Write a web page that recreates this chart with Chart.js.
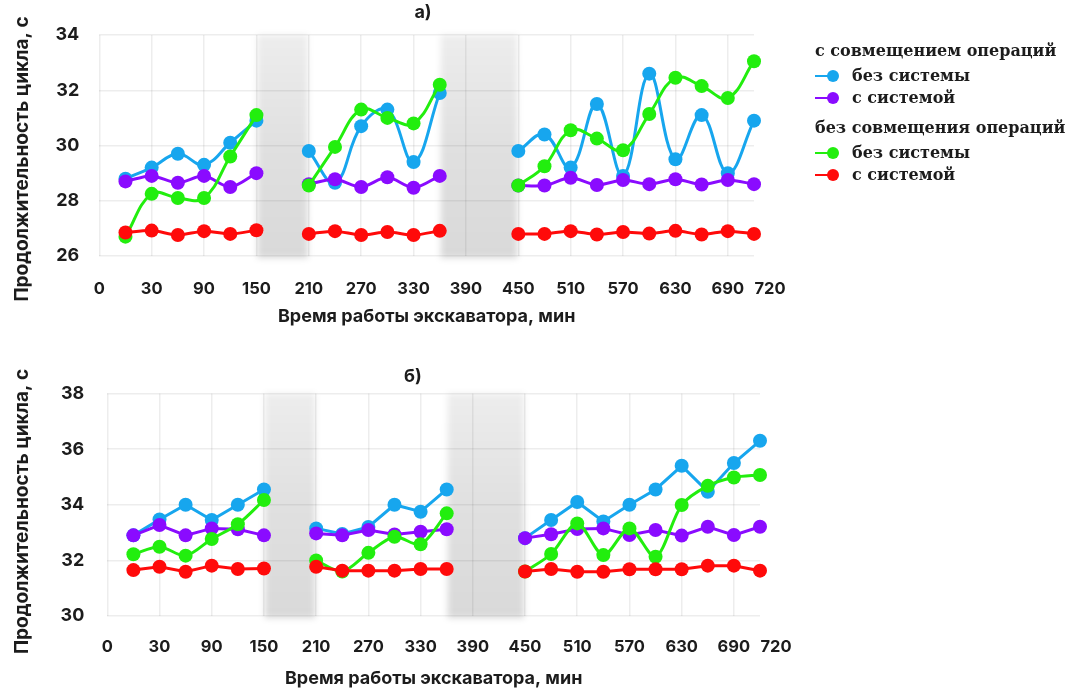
<!DOCTYPE html>
<html lang="ru">
<head>
<meta charset="utf-8">
<title>Продолжительность цикла экскаватора</title>
<script src="https://cdn.jsdelivr.net/npm/chart.js@4/dist/chart.umd.min.js"></script>
<style>
  html, body { margin: 0; padding: 0; background: #fff; }
  #page { position: relative; width: 1077px; height: 690px; overflow: hidden; }
  .panel { position: absolute; left: 0; }
  .ptitle { position: absolute; width: 60px; margin-left: -30px; text-align: center; font-family: Inter, sans-serif; font-weight: bold; font-size: 18px; line-height: 22px; color: #1c1c1c; }
  #legend { position: absolute; left: 815px; top: 37px; font-family: "DejaVu Serif", serif; font-weight: bold; font-size: 16px; color: #1c1c1c; }
  #legend .head { height: 28px; line-height: 28px; white-space: nowrap; }
  #legend .item { height: 22px; line-height: 22px; white-space: nowrap; position: relative; padding-left: 37px; }
  #legend .mark { position: absolute; left: 0; top: 10px; width: 16px; height: 2px; }
  #legend .dot { position: absolute; left: 12px; top: 5px; width: 12px; height: 12px; border-radius: 50%; }
</style>
</head>
<body>
<div id="page">
  <div class="panel" style="top:0;width:824px;height:327px;"><canvas id="chartA"></canvas></div>
  <div class="panel" style="top:355px;width:830px;height:335px;"><canvas id="chartB"></canvas></div>
  <div class="ptitle" style="left:423px;top:1px;">а)</div>
  <div class="ptitle" style="left:413px;top:365px;">б)</div>
  <div id="legend"></div>
</div>
<script>
'use strict';

// x positions: one step per half grid cell, gaps are breaks in operation
const positions = [1,2,3,4,5,6,7,8,9,10,11,12,13,14,15,16,17,18,19,20,21,22,23,24,25];
const tickPositions = [0,2,4,6,8,10,12,14,16,18,20,22,24,25];
const tickLabels = ['0','30','90','150','210','270','330','390','450','510','570','630','690','\u2007\u2007\u2007720'];
const pauses = [[6, 8], [13, 16]];

// а) cycle duration, s
const blueA   = [28.8, 29.2, 29.7, 29.3, 30.1, 30.9, null, 29.8, 28.65, 30.7, 31.3, 29.4, 31.9, null, null, 29.8, 30.4, 29.2, 31.5, 28.9, 32.6, 29.5, 31.1, 29.0, 30.9];
const purpleA = [28.7, 28.9, 28.65, 28.9, 28.5, 29.0, null, 28.6, 28.78, 28.5, 28.85, 28.47, 28.9, null, null, 28.55, 28.55, 28.83, 28.57, 28.75, 28.6, 28.78, 28.59, 28.75, 28.6];
const greenA  = [26.7, 28.25, 28.1, 28.1, 29.6, 31.1, null, 28.55, 29.95, 31.3, 31.0, 30.8, 32.2, null, null, 28.55, 29.25, 30.55, 30.25, 29.83, 31.14, 32.45, 32.15, 31.72, 33.05];
const redA    = [26.85, 26.92, 26.76, 26.9, 26.8, 26.93, null, 26.8, 26.9, 26.76, 26.87, 26.76, 26.91, null, null, 26.8, 26.8, 26.9, 26.78, 26.87, 26.81, 26.91, 26.78, 26.9, 26.8];

// б) cycle duration, s
const blueB   = [32.9, 33.47, 34.0, 33.45, 34.0, 34.55, null, 33.15, 32.95, 33.2, 34.0, 33.75, 34.55, null, null, 32.8, 33.45, 34.1, 33.4, 34.0, 34.55, 35.4, 34.47, 35.5, 36.3];
const purpleB = [32.9, 33.27, 32.9, 33.15, 33.12, 32.9, null, 32.97, 32.9, 33.09, 32.93, 33.03, 33.12, null, null, 32.8, 32.94, 33.13, 33.15, 32.91, 33.09, 32.89, 33.21, 32.91, 33.21];
const greenB  = [32.22, 32.49, 32.17, 32.77, 33.3, 34.17, null, 32.0, 31.6, 32.27, 32.85, 32.58, 33.69, null, null, 31.6, 32.23, 33.33, 32.19, 33.15, 32.13, 33.99, 34.68, 34.98, 35.07];
const redB    = [31.65, 31.77, 31.59, 31.81, 31.69, 31.71, null, 31.77, 31.63, 31.63, 31.63, 31.69, 31.69, null, null, 31.6, 31.69, 31.59, 31.59, 31.68, 31.68, 31.68, 31.81, 31.81, 31.63];

const COLORS = { blue: '#17a6ee', purple: '#8a0bff', green: '#22ee0e', red: '#ff0a0a' };
const TEXT = '#1c1c1c';
const GRID = 'rgba(0,0,0,0.07)';
const SANS = 'Inter, "DejaVu Sans", sans-serif';
const Y_TITLE = 'Продолжительность цикла, с';
const X_TITLE = 'Время работы экскаватора, мин';

const legendGroups = [
  { title: 'с совмещением операций',  items: [['без системы', COLORS.blue], ['с системой', COLORS.purple]] },
  { title: 'без совмещения операций', items: [['без системы', COLORS.green], ['с системой', COLORS.red]] },
];

// soft grey bands over the pauses in excavator work
const pauseBands = {
  id: 'pauseBands',
  beforeDatasetsDraw(chart) {
    const { ctx, chartArea, scales: { x } } = chart;
    ctx.save();
    ctx.filter = 'blur(3px)';
    pauses.forEach(([a, b]) => {
      const x0 = x.getPixelForValue(a);
      const x1 = x.getPixelForValue(b);
      const g = ctx.createLinearGradient(0, chartArea.top, 0, chartArea.bottom);
      g.addColorStop(0, 'rgba(0,0,0,0.07)');
      g.addColorStop(0.5, 'rgba(0,0,0,0.12)');
      g.addColorStop(1, 'rgba(0,0,0,0.15)');
      ctx.fillStyle = g;
      ctx.fillRect(x0 + 1, chartArea.top, x1 - x0 - 2, chartArea.bottom - chartArea.top + 2);
    });
    ctx.restore();
  }
};

const toPoints = vals => vals.map((v, i) => ({ x: positions[i], y: v }));

function series(vals, color, tension) {
  return {
    data: toPoints(vals),
    borderColor: color,
    backgroundColor: color,
    pointBackgroundColor: color,
    pointBorderWidth: 0,
    pointRadius: 7,
    pointHoverRadius: 7,
    borderWidth: 3,
    tension,
    spanGaps: false,
    clip: false,
  };
}

// note: Chart.js reserves tick padding twice when fitting an axis,
// the title paddings below make up for it
function makeChart(id, cfg) {
  return new Chart(document.getElementById(id), {
    type: 'line',
    data: {
      // first dataset is drawn on top
      datasets: [
        series(cfg.red, COLORS.red, cfg.tension.red),
        series(cfg.green, COLORS.green, cfg.tension.green),
        series(cfg.purple, COLORS.purple, cfg.tension.purple),
        series(cfg.blue, COLORS.blue, cfg.tension.blue),
      ]
    },
    plugins: [pauseBands],
    options: {
      responsive: true,
      maintainAspectRatio: false,
      animation: false,
      layout: { padding: cfg.padding },
      plugins: {
        legend: { display: false },
        tooltip: { enabled: false },
      },
      scales: {
        x: {
          type: 'linear',
          min: 0,
          max: 25,
          afterBuildTicks: axis => { axis.ticks = tickPositions.map(v => ({ value: v })); },
          ticks: {
            autoSkip: false,
            maxRotation: 0,
            color: TEXT,
            padding: cfg.xTickPad,
            font: { family: SANS, size: 16.5, weight: 'bold' },
            callback: v => tickLabels[tickPositions.indexOf(v)],
          },
          grid: {
            drawTicks: false,
            lineWidth: 1.5,
            color: c => (c.tick && c.tick.value === 25 ? 'rgba(0,0,0,0)' : GRID),
          },
          border: { display: false },
          title: {
            display: true,
            text: X_TITLE,
            color: TEXT,
            font: { family: SANS, size: 18, weight: 'bold' },
            padding: cfg.xTitlePad,
          }
        },
        y: {
          min: cfg.yMin,
          max: cfg.yMax,
          ticks: {
            stepSize: 2,
            color: TEXT,
            padding: cfg.yTickPad,
            font: { family: SANS, size: 18, weight: 'bold' },
          },
          grid: { drawTicks: false, lineWidth: 1.5, color: GRID },
          border: { display: false },
          title: {
            display: true,
            // trailing non-breaking spaces nudge the rotated title downwards
            text: Y_TITLE + '\u00a0'.repeat(cfg.yTitleShift),
            color: TEXT,
            font: { family: SANS, size: 19, weight: 'bold' },
            padding: cfg.yTitlePad,
          }
        }
      }
    }
  });
}

makeChart('chartA', {
  blue: blueA, purple: purpleA, green: greenA, red: redA,
  tension: { blue: 0.4, purple: 0.3, green: 0.4, red: 0.3 },
  yMin: 26, yMax: 34,
  padding: { top: 35, left: 0, right: 70, bottom: 0 },
  xTickPad: 23, xTitlePad: { top: -16.4, bottom: 0 },
  yTickPad: 20, yTitlePad: { top: 11, bottom: 1.7 }, yTitleShift: 6,
});

makeChart('chartB', {
  blue: blueB, purple: purpleB, green: greenB, red: redB,
  tension: { blue: 0, purple: 0, green: 0.3, red: 0 },
  yMin: 30, yMax: 38,
  padding: { top: 38.5, left: 0, right: 70, bottom: 0 },
  xTickPad: 21, xTitlePad: { top: -9.6, bottom: 0.2 },
  yTickPad: 23, yTitlePad: { top: 10.6, bottom: 4.1 }, yTitleShift: 3,
});

// grouped legend on the right
const legend = document.getElementById('legend');
legendGroups.forEach((group, gi) => {
  const head = document.createElement('div');
  head.className = 'head';
  head.textContent = group.title;
  if (gi > 0) head.style.marginTop = '5px';
  legend.appendChild(head);
  group.items.forEach(([label, color]) => {
    const row = document.createElement('div');
    row.className = 'item';
    row.innerHTML = `<span class="mark" style="background:${color}"></span><span class="dot" style="background:${color}"></span>${label}`;
    legend.appendChild(row);
  });
});
</script>
</body>
</html>
